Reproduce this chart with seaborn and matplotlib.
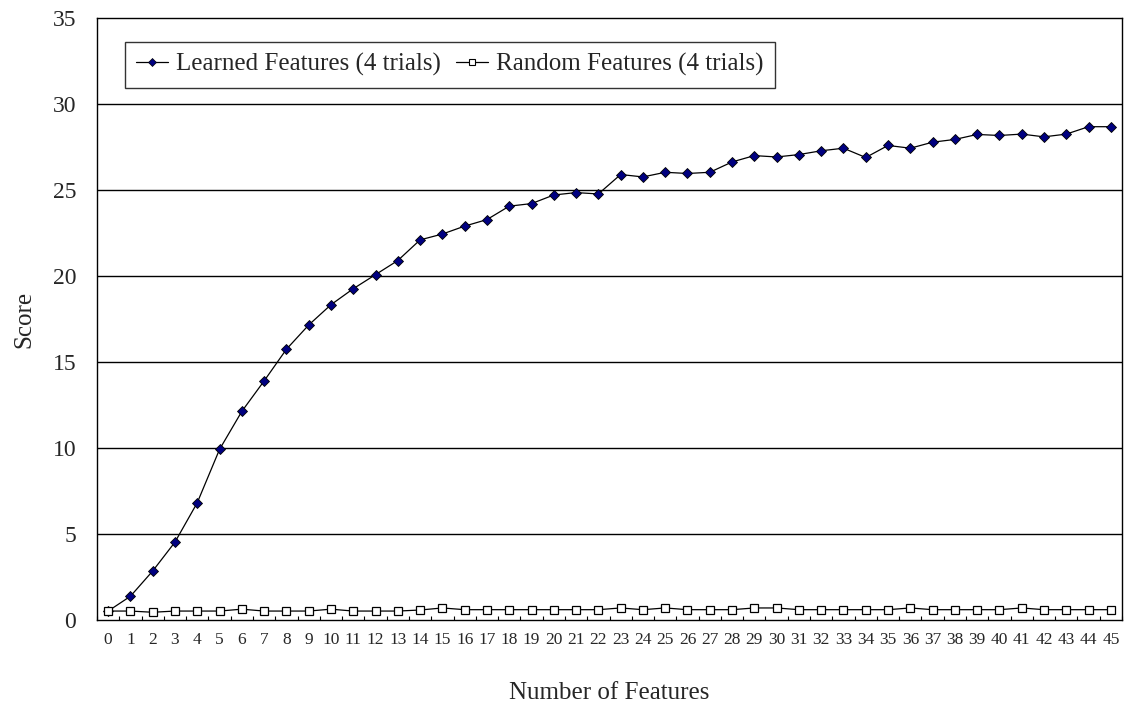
import matplotlib
matplotlib.use("Agg")
import matplotlib.pyplot as plt
import seaborn as sns
import pandas as pd
import numpy as np
from matplotlib.lines import Line2D

features = list(range(46))
learned = [0.52, 1.38, 2.85, 4.53, 6.82, 9.92, 12.13, 13.9, 15.74, 17.15,
           18.33, 19.26, 20.08, 20.9, 22.1, 22.44, 22.9, 23.28, 24.06, 24.21,
           24.71, 24.85, 24.77, 25.9, 25.76, 26.03, 25.96, 26.03, 26.63, 27.0,
           26.92, 27.06, 27.28, 27.43, 26.89, 27.59, 27.43, 27.78, 27.94, 28.23,
           28.17, 28.25, 28.09, 28.25, 28.68, 28.68]
random_ = [0.52, 0.52, 0.45, 0.52, 0.52, 0.52, 0.63, 0.52, 0.52, 0.52,
           0.63, 0.52, 0.52, 0.52, 0.58, 0.7, 0.6, 0.6, 0.6, 0.6,
           0.6, 0.6, 0.6, 0.7, 0.6, 0.7, 0.6, 0.6, 0.6, 0.7,
           0.7, 0.6, 0.6, 0.6, 0.6, 0.6, 0.7, 0.6, 0.6, 0.6,
           0.6, 0.7, 0.6, 0.6, 0.6, 0.6]
series_names = ["Learned Features (4 trials)", "Random Features (4 trials)"]
y_ticks = [0, 5, 10, 15, 20, 25, 30, 35]

df = pd.DataFrame({
    "x": features * 2,
    "Score": learned + random_,
    "series": [series_names[0]] * len(features) + [series_names[1]] * len(features),
})

sns.set_theme(style="white")
plt.rcParams['font.family'] = ['Liberation Serif', 'DejaVu Serif']

fig = plt.figure(figsize=(11.32, 7.06), dpi=100)
ax = fig.add_axes([97/1132, 1 - 620/706, (1122 - 97)/1132, (620 - 18)/706])

sns.lineplot(data=df, x="x", y="Score", hue="series", style="series",
             palette={series_names[0]: "black", series_names[1]: "black"},
             markers={series_names[0]: "D", series_names[1]: "s"},
             dashes=False, linewidth=0.9, ax=ax, legend=False)

lines = ax.get_lines()
lines[0].set_markerfacecolor("#000080")
lines[0].set_markeredgecolor("black")
lines[0].set_markersize(5.5)
lines[0].set_markeredgewidth(0.6)
lines[1].set_markerfacecolor("white")
lines[1].set_markeredgecolor("black")
lines[1].set_markersize(6)
lines[1].set_markeredgewidth(0.9)

ax.set_xlim(-0.5, 45.5)
ax.set_ylim(0, 35)
ax.set_yticks(y_ticks)
ax.set_yticklabels([str(t) for t in y_ticks], fontsize=17)
ax.set_xticks(features)
ax.set_xticklabels([str(f) for f in features], fontsize=12.5)
ax.set_xticks(np.arange(-0.5, 46, 1), minor=True)
ax.tick_params(axis="x", which="major", length=0, pad=9)
ax.tick_params(axis="x", which="minor", direction="in", length=3, width=0.8,
               color="black", bottom=True)
ax.tick_params(axis="y", length=0, pad=15)

for t in y_ticks[1:-1]:
    ax.axhline(t, color="black", linewidth=1.0, zorder=0)

for s in ax.spines.values():
    s.set_color("black")
    s.set_linewidth(1.0)

ax.set_xlabel("Number of Features", fontsize=18, labelpad=24)
ax.set_ylabel("Score", fontsize=18, labelpad=12)

handles = [
    Line2D([], [], color="black", linewidth=0.9, marker="D", markersize=4,
           markerfacecolor="#000080", markeredgecolor="black", markeredgewidth=0.5),
    Line2D([], [], color="black", linewidth=0.9, marker="s", markersize=5,
           markerfacecolor="white", markeredgecolor="black", markeredgewidth=0.8),
]
leg = ax.legend(handles, series_names, loc="upper left", bbox_to_anchor=(0.027, 0.96),
                ncol=2, fontsize=18, frameon=True, fancybox=False, edgecolor="black",
                handlelength=1.3, handletextpad=0.3, columnspacing=0.6,
                borderpad=0.45, borderaxespad=0)
leg.get_frame().set_linewidth(1.0)

fig.savefig("out.png", dpi=100, facecolor="white")
